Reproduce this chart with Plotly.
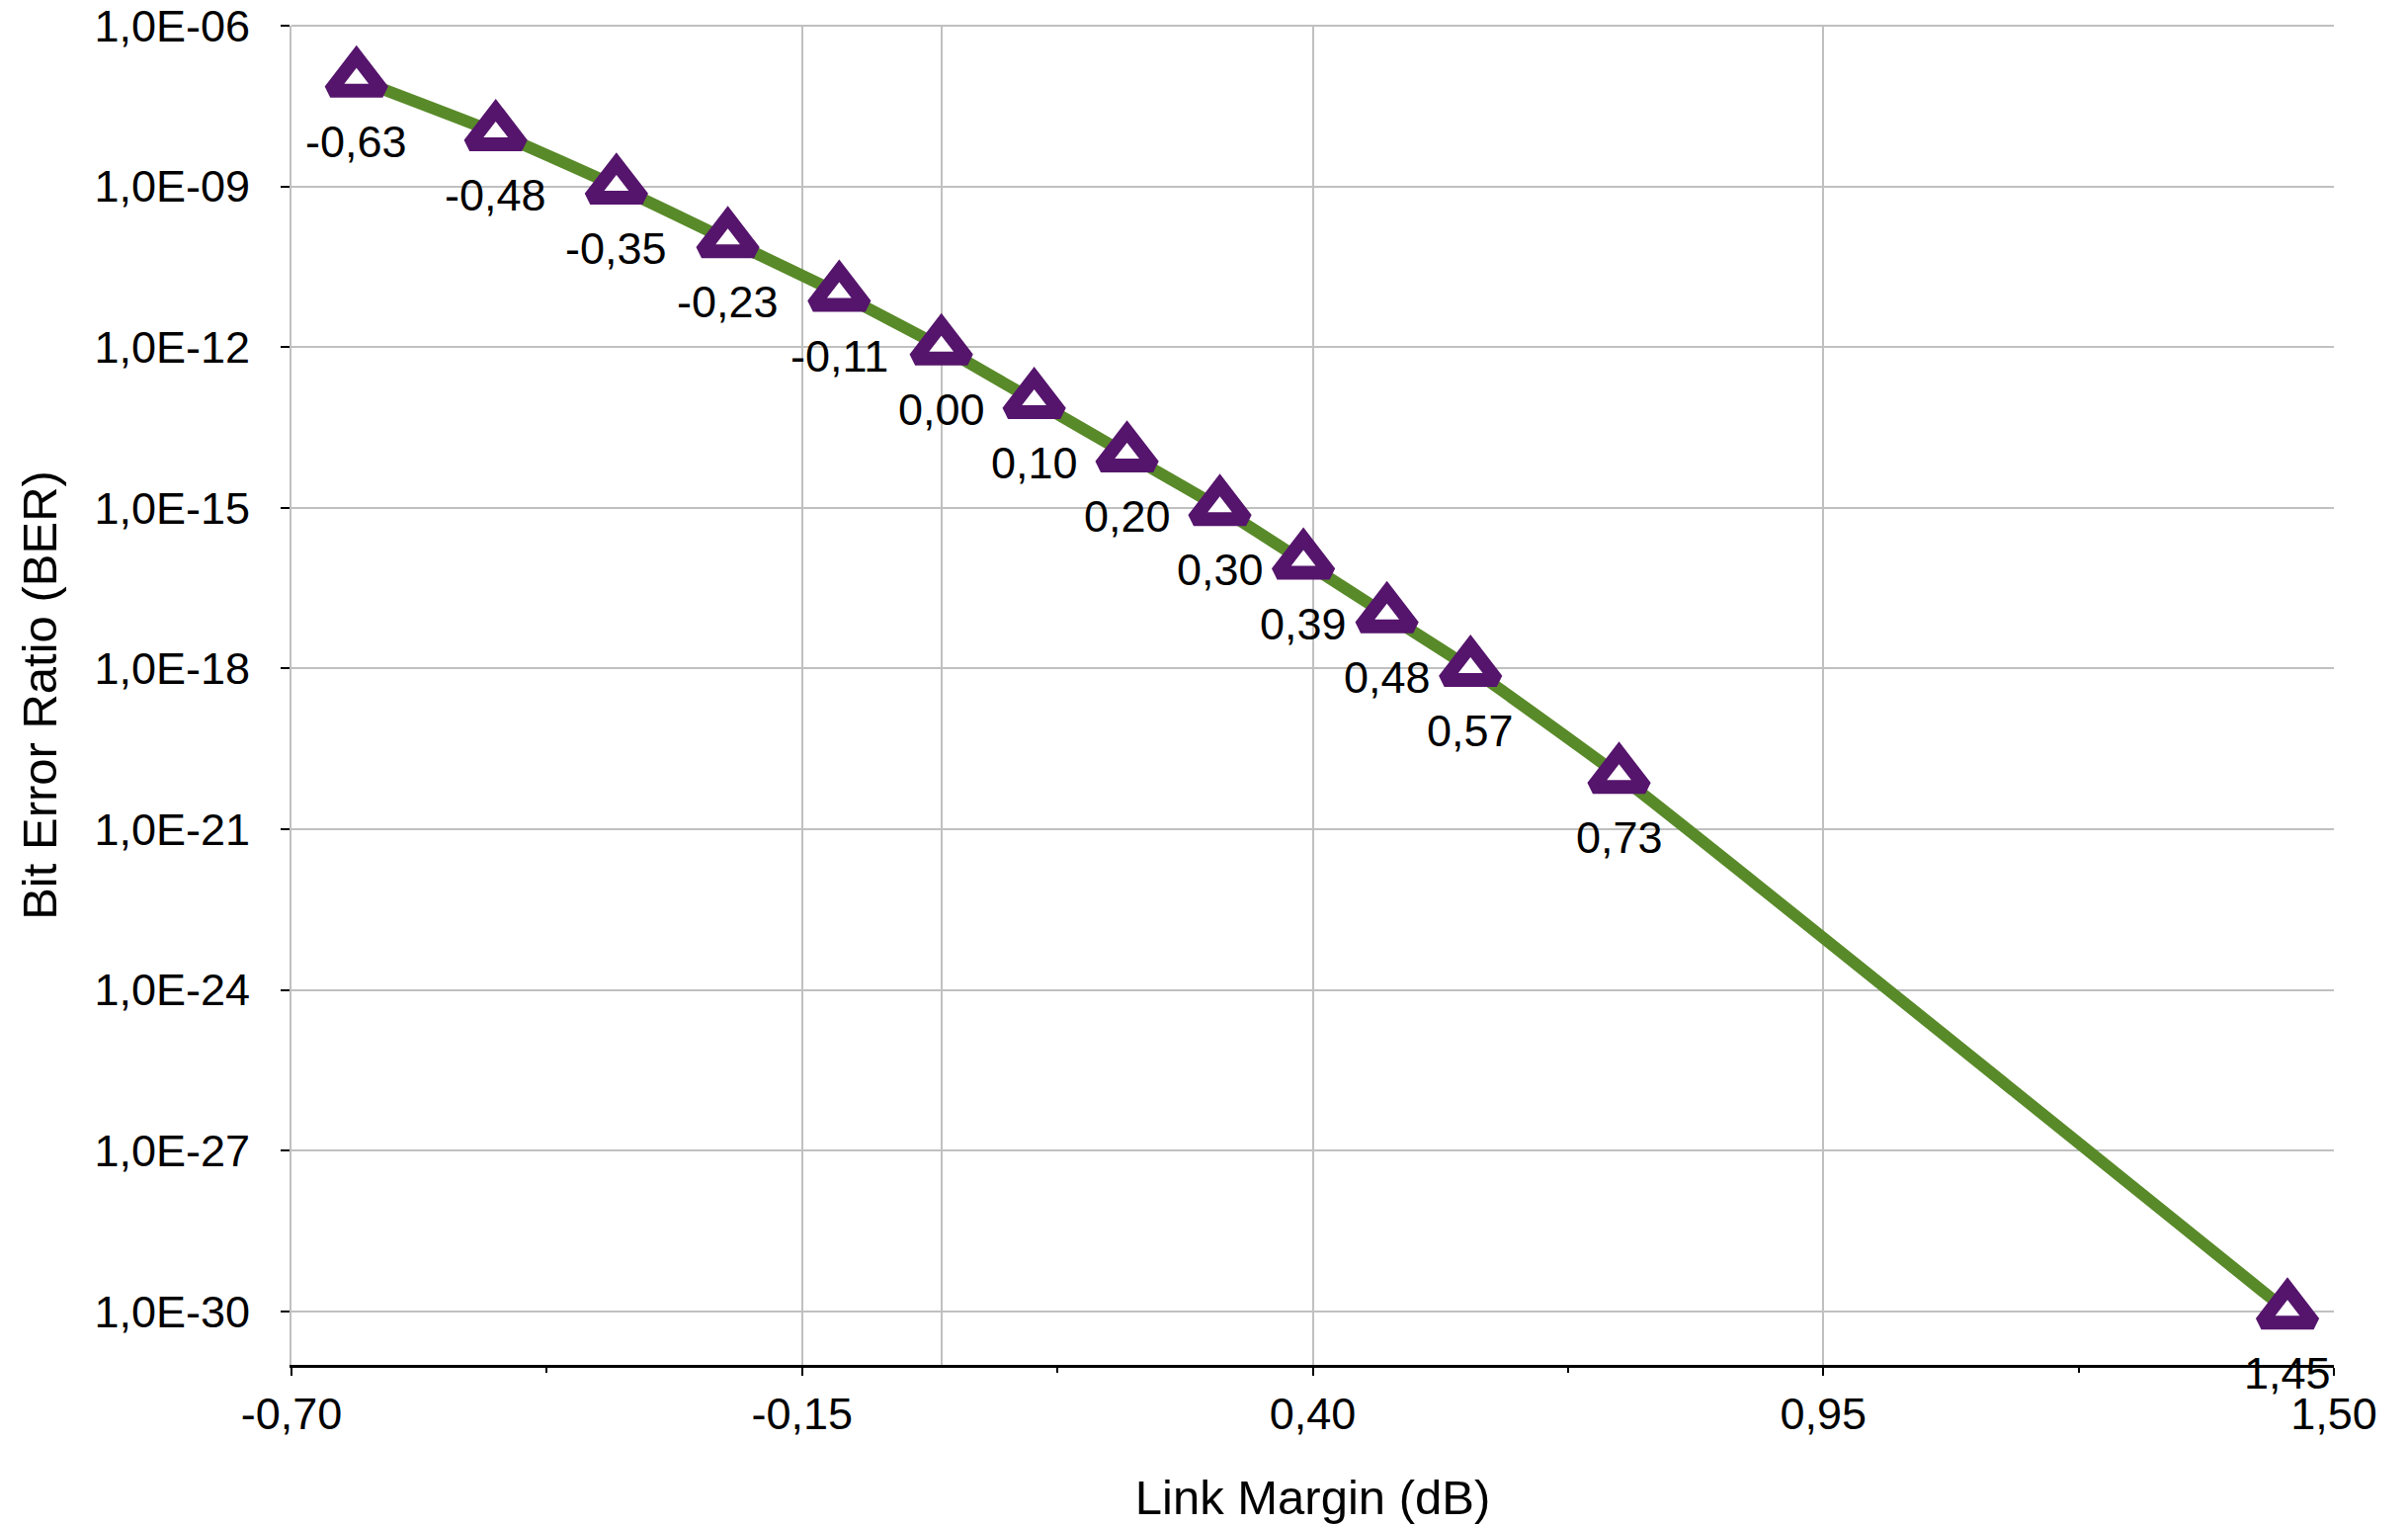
import plotly.graph_objects as go
import numpy as np

# ---- data ----
link_margin_db = [-0.63, -0.48, -0.35, -0.23, -0.11, 0.00, 0.10, 0.20, 0.30, 0.39, 0.48, 0.57, 0.73, 1.45]
ber = [1e-7, 1e-8, 1e-9, 1e-10, 1e-11, 1e-12, 1e-13, 1e-14, 1e-15, 1e-16, 1e-17, 1e-18, 1e-20, 1e-30]
point_labels = ["-0,63", "-0,48", "-0,35", "-0,23", "-0,11", "0,00", "0,10", "0,20",
                "0,30", "0,39", "0,48", "0,57", "0,73", "1,45"]

x_tick_vals = [-0.70, -0.15, 0.40, 0.95, 1.50]
x_tick_text = ["-0,70", "-0,15", "0,40", "0,95", "1,50"]
x_minor_vals = [-0.425, 0.125, 0.675, 1.225]

y_tick_vals = [1e-6, 1e-9, 1e-12, 1e-15, 1e-18, 1e-21, 1e-24, 1e-27, 1e-30]
y_tick_text = ["1,0E-06", "1,0E-09", "1,0E-12", "1,0E-15", "1,0E-18",
               "1,0E-21", "1,0E-24", "1,0E-27", "1,0E-30"]

FONT = "Liberation Sans, Arial, Helvetica, sans-serif"
GREEN = "#598A29"
PURPLE = "#55156C"
GRID = "#C0C0C0"

fig = go.Figure()
fig.add_trace(go.Scatter(
    x=link_margin_db, y=ber,
    mode="lines+markers",
    line=dict(color=GREEN, width=12, shape="spline", smoothing=0.5),
    marker=dict(symbol="triangle-up", size=46, color="white",
                line=dict(color=PURPLE, width=14)),
    showlegend=False,
    hoverinfo="x+y",
))

for xv, yv, lab in zip(link_margin_db, ber, point_labels):
    fig.add_annotation(
        x=xv, y=np.log10(yv), text=lab, showarrow=False,
        xanchor="center", yanchor="middle", yshift=-63,
        font=dict(family=FONT, size=45, color="black"),
    )

fig.update_layout(
    width=2429, height=1535,
    margin=dict(l=287, r=75, t=18, b=162),
    paper_bgcolor="white", plot_bgcolor="white",
    font=dict(family=FONT, size=45, color="black"),
    separators=",.",
    showlegend=False,
)

fig.update_xaxes(
    range=[-0.70, 1.50], automargin=False,
    tickmode="array", tickvals=x_tick_vals, ticktext=x_tick_text,
    showgrid=True, gridcolor=GRID, gridwidth=2,
    zeroline=True, zerolinecolor=GRID, zerolinewidth=2,
    showline=True, linecolor="black", linewidth=3,
    ticks="outside", ticklen=8, tickwidth=2, tickcolor="black",
    minor=dict(tickmode="array", tickvals=x_minor_vals, ticks="outside",
               ticklen=5, tickwidth=2, tickcolor="black", showgrid=False),
    tickfont=dict(family=FONT, size=45, color="black"),
    ticklabelstandoff=0, ticklabeloverflow="allow",
    title=dict(text="Link Margin (dB)", font=dict(family=FONT, size=49, color="black"),
               standoff=43),
)

fig.update_yaxes(
    type="log", range=[-31, -6], automargin=False,
    tickmode="array", tickvals=y_tick_vals, ticktext=y_tick_text,
    showgrid=True, gridcolor=GRID, gridwidth=2,
    showline=True, linecolor=GRID, linewidth=2,
    ticks="outside", ticklen=9, tickwidth=2, tickcolor="black",
    tickfont=dict(family=FONT, size=45, color="black"),
    ticklabelstandoff=22, ticklabeloverflow="allow",
    title=dict(text="Bit Error Ratio (BER)", font=dict(family=FONT, size=49, color="black"),
               standoff=22),
)

# top border line at 1E-06 (gridline at the upper range edge)
fig.add_shape(type="line", xref="paper", yref="paper", x0=0, x1=1, y0=1, y1=1,
              line=dict(color=GRID, width=2), layer="below")

fig.write_html("out.html")
